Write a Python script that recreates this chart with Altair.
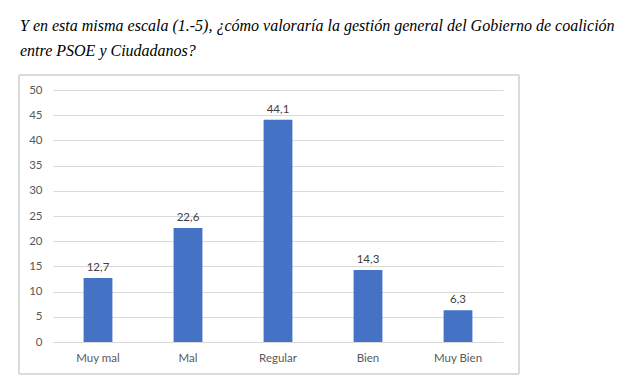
import altair as alt
import pandas as pd

categories = ["Muy mal", "Mal", "Regular", "Bien", "Muy Bien"]
values = [12.7, 22.6, 44.1, 14.3, 6.3]
labels = ["12,7", "22,6", "44,1", "14,3", "6,3"]
y_ticks = [0, 5, 10, 15, 20, 25, 30, 35, 40, 45, 50]

df = pd.DataFrame({"cat": categories, "val": values, "lab": labels})

W, H = 450, 252
FONT = "Lato"

x = alt.X("cat:N", sort=categories, title=None,
          scale=alt.Scale(paddingInner=0.68, paddingOuter=0.34),
          axis=alt.Axis(labelAngle=0, labelFont=FONT, labelFontSize=11.5, labelColor="#595959",
                        ticks=False, domainColor="#d9d9d9", labelPadding=10, grid=False))
y = alt.Y("val:Q", title=None,
          scale=alt.Scale(domain=[0, 50], nice=False),
          axis=alt.Axis(values=y_ticks, labelOverlap=False, labelFont=FONT,
                        labelFontSize=11.5, labelColor="#595959", ticks=False, domain=False,
                        grid=True, gridColor="#d9d9d9", labelPadding=11))

base = alt.Chart(df).encode(x=x, y=y)

bars = base.mark_bar(color="#4472C4")
text = base.mark_text(dy=-10, font=FONT, fontSize=11.5, color="#404040").encode(text="lab:N")

box = alt.Chart(df).mark_rect(fill=None, stroke="#d9d9d9", strokeWidth=1).encode(
    x=alt.value(-34), x2=alt.value(466), y=alt.value(-15), y2=alt.value(284))

chart = alt.layer(bars, text, box).properties(
    width=W, height=H,
    title=alt.TitleParams(
        ["Y en esta misma escala (1.-5), ¿cómo valoraría la gestión general del Gobierno de coalición",
         "entre PSOE y Ciudadanos?"],
        anchor="start", frame="group", font="Liberation Serif",
        fontStyle="italic", fontWeight="normal", fontSize=16, color="#000000",
        lineHeight=25, dx=-33, offset=16),
    autosize=alt.AutoSizeParams(type="none"),
    padding={"left": 53, "top": 90, "right": 139, "bottom": 36},
).configure_view(stroke=None)

chart.save("out.html", embed_options={"renderer": "svg", "actions": False})
